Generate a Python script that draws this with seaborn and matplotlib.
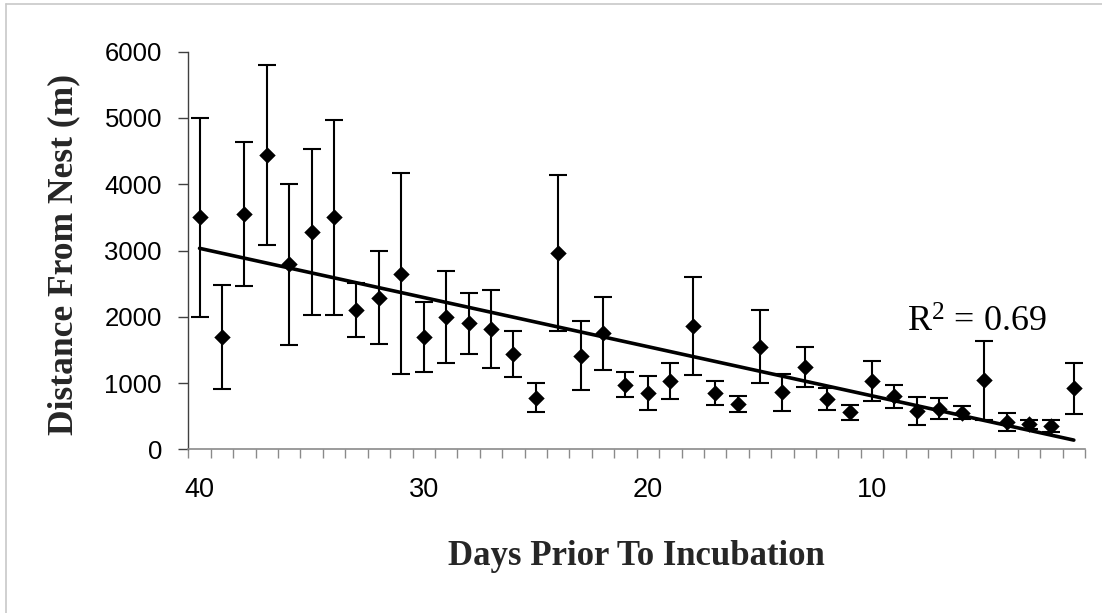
import numpy as np
import pandas as pd
import matplotlib
matplotlib.use("Agg")
import matplotlib.pyplot as plt
import seaborn as sns
from matplotlib.lines import Line2D

# Mean distance from nest per day before incubation, with error half-widths
days = list(range(40, 0, -1))
distance = [3500, 1690, 3550, 4440, 2790, 3280, 3500, 2100, 2290, 2650,
            1700, 1995, 1900, 1815, 1440, 780, 2960, 1415, 1750, 975,
            850, 1030, 1860, 850, 690, 1545, 860, 1236, 755, 560,
            1035, 800, 580, 615, 552, 1040, 415, 375, 355, 920]
error = [1500, 785, 1080, 1360, 1215, 1250, 1470, 410, 705, 1520,
         528, 690, 460, 585, 345, 220, 1180, 525, 553, 190,
         255, 270, 735, 183, 120, 550, 277, 302, 168, 113,
         300, 170, 208, 153, 100, 600, 133, 75, 88, 390]
x_tick_labels = [40, 30, 20, 10]
y_ticks = [0, 1000, 2000, 3000, 4000, 5000, 6000]
r2_label = "R$^{2}$ = 0.69"

df = pd.DataFrame({"day": days, "distance": distance, "error": error})

sns.set_theme(style="white")
plt.rcParams["font.family"] = ["Liberation Sans", "DejaVu Sans"]
plt.rcParams["mathtext.fontset"] = "custom"
plt.rcParams["mathtext.rm"] = "Liberation Serif"
plt.rcParams["mathtext.it"] = "Liberation Serif"

fig = plt.figure(figsize=(11.02, 6.13), dpi=100)
fig.patch.set_facecolor("white")
ax = fig.add_axes([0.1709, 0.2670, 0.8137, 0.6487])

# error bars
ax.errorbar(df["day"], df["distance"], yerr=df["error"], fmt="none",
            ecolor="black", elinewidth=1.5, capsize=6.8, capthick=1.5, zorder=2)

# linear trend line
sns.regplot(data=df, x="day", y="distance", scatter=False, ci=None, ax=ax,
            line_kws=dict(color="black", lw=2.6, zorder=3))

# diamond markers
sns.scatterplot(data=df, x="day", y="distance", marker="D", s=70,
                color="black", edgecolor="black", linewidth=0, ax=ax, zorder=4)

ax.set_xlim(40.5, 0.5)
ax.set_ylim(0, 6000)
ax.set_xticks(x_tick_labels)
ax.set_xticklabels([str(v) for v in x_tick_labels])
ax.set_xticks(np.arange(0.5, 41, 1), minor=True)
ax.set_yticks(y_ticks)
ax.set_yticklabels([str(v) for v in y_ticks])

ax.tick_params(axis="x", which="major", length=0, pad=20, labelsize=19.5,
               labelcolor="black")
ax.tick_params(axis="x", which="minor", length=6.5, width=1.0,
               color="#8a8a8a", direction="out", bottom=True)
ax.tick_params(axis="y", which="major", length=7, width=1.0,
               color="#404040", direction="out", left=True, pad=12,
               labelsize=18.5, labelcolor="black")

for side in ("top", "right"):
    ax.spines[side].set_visible(False)
ax.spines["left"].set_color("#404040")
ax.spines["left"].set_linewidth(1.0)
ax.spines["bottom"].set_color("#8a8a8a")
ax.spines["bottom"].set_linewidth(1.2)

ax.set_xlabel("Days Prior To Incubation",
              fontdict=dict(family="Liberation Serif", weight="bold", size=25))
ax.set_ylabel("Distance From Nest (m)",
              fontdict=dict(family="Liberation Serif", weight="bold", size=25.5))
ax.xaxis.set_label_coords(0.5, -0.228)
ax.yaxis.set_label_coords(-0.121, 0.49)

ax.text(8.45, 1768, r2_label, ha="left", va="baseline",
        family="Liberation Serif", size=26, color="black")

# thin frame around the chart area
fig.add_artist(Line2D([5.5 / 1102, 1], [1 - 3.5 / 613, 1 - 3.5 / 613],
                      transform=fig.transFigure, color="#c8c8c8", lw=1.2))
fig.add_artist(Line2D([5.5 / 1102, 5.5 / 1102], [0, 1 - 3.5 / 613],
                      transform=fig.transFigure, color="#c8c8c8", lw=1.2))

fig.savefig("out.png", dpi=100, facecolor="white")
